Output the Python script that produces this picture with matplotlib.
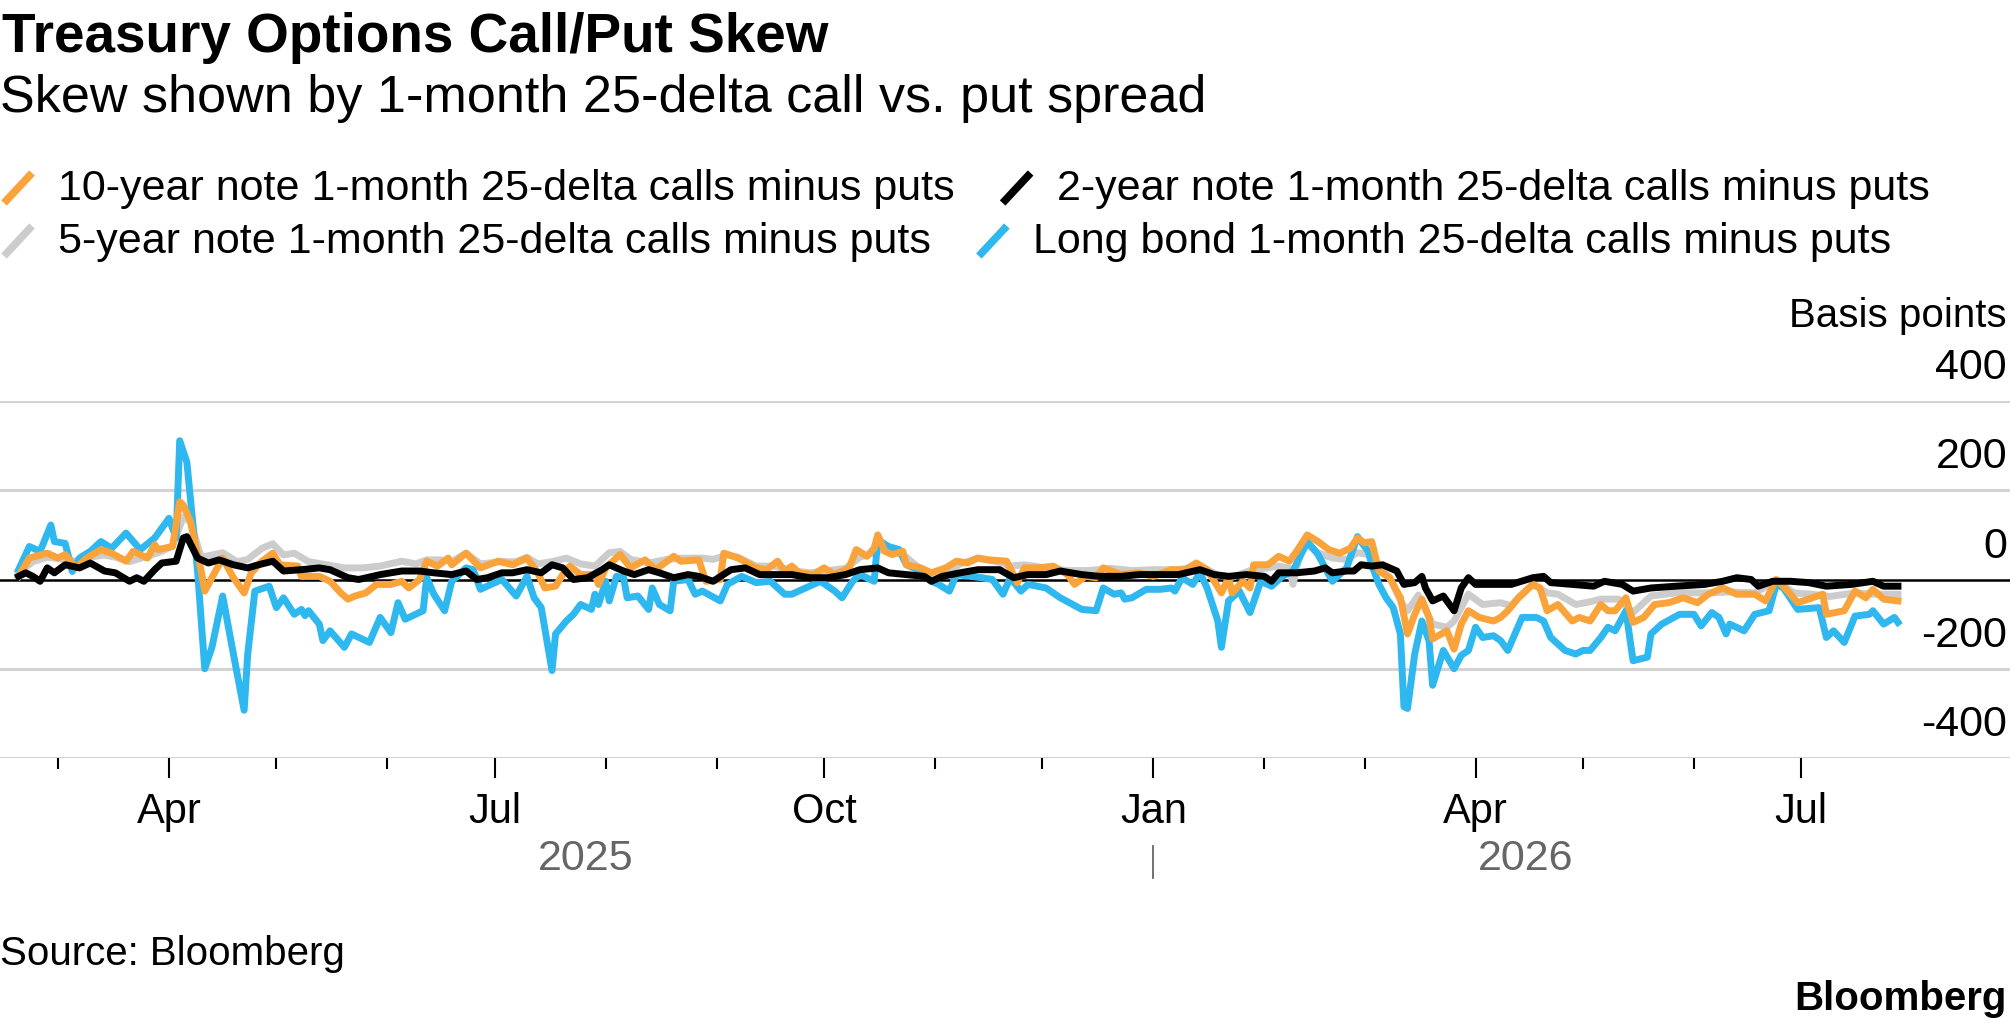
import numpy as np
import matplotlib
matplotlib.use("Agg")
import matplotlib.pyplot as plt
import matplotlib.dates as mdates
import matplotlib.transforms as mtransforms
from matplotlib.lines import Line2D

plt.rcParams['font.family'] = ['Liberation Sans', 'DejaVu Sans']

# all series: day offsets from 2025-03-01 and values in basis points
START = np.datetime64('2025-03-01')

ten_year_days = [-11, -8, -3, 0, 2, 5, 8, 12, 15, 19, 21, 25, 27, 28, 32,
                 34, 35, 37, 40, 41, 43, 46, 49, 52, 54, 57, 60, 62, 67, 68,
                 73, 76, 79, 81, 83, 86, 89, 93, 96, 98, 101, 103, 106, 109, 110,
                 114, 118, 123, 127, 131, 134, 136, 139, 141, 143, 146, 150, 151, 153, 157,
                 160, 164, 167, 172, 174, 179, 181, 185, 186, 190, 195, 198, 201, 203, 205,
                 207, 211, 214, 217, 221, 223, 226, 228, 229, 231, 233, 236, 237, 241, 244,
                 248, 251, 254, 257, 260, 265, 268, 270, 274, 278, 282, 284, 287, 290, 292,
                 297, 302, 306, 311, 315, 318, 321, 325, 327, 328, 331, 333, 334, 338, 341,
                 344, 346, 349, 352, 355, 358, 361, 363, 365, 367, 369, 372, 375, 377, 379,
                 381, 383, 384, 388, 390, 392, 394, 397, 401, 403, 405, 408, 412, 414, 416,
                 419, 423, 425, 428, 431, 433, 435, 438, 440, 443, 446, 450, 454, 458, 461,
                 465, 469, 474, 477, 480, 482, 486, 489, 493, 494, 499, 502, 505, 507, 510,
                 514]
ten_year_bp = [7, 48, 59, 48, 56, 26, 48, 67, 59, 41, 63, 48, 78, 67, 74,
               174, 167, 130, 19, -26, 4, 48, 4, -30, 15, 41, 59, 33, 30, 7,
               7, -4, -30, -44, -37, -30, -11, -11, -4, -19, 0, 41, 30, 48, 33,
               59, 26, 41, 33, 48, 15, -19, -15, 11, 30, 11, 11, -11, 26, 56,
               26, 44, 22, 52, 41, 44, -4, 0, 59, 48, 26, 22, 41, 19, 30,
               15, 11, 26, 11, 26, 67, 52, 70, 100, 63, 56, 63, 33, 26, 15,
               26, 41, 37, 48, 44, 41, -7, 26, 26, 30, 11, -11, 7, 4, 26,
               11, 15, 7, 22, 22, 37, 22, -30, 4, -30, -4, -19, 33, 33, 52,
               41, 63, 100, 85, 67, 59, 70, 93, 82, 85, 19, 4, -41, -122, -78,
               -44, -85, -133, -115, -156, -100, -70, -85, -93, -85, -70, -41, -11, -19, -70,
               -56, -93, -85, -93, -56, -70, -70, -41, -96, -85, -56, -52, -41, -52, -33,
               -19, -33, -33, -48, 0, -15, -52, -44, -33, -78, -70, -26, -41, -22, -44,
               -48]

two_year_days = [-11, -9, -7, -5, -3, -1, 2, 6, 9, 13, 16, 20, 22, 24, 27,
                 29, 33, 35, 36, 39, 42, 45, 49, 53, 56, 60, 63, 68, 73, 76,
                 81, 84, 90, 96, 101, 105, 110, 114, 117, 120, 124, 127, 131, 135, 138,
                 141, 144, 148, 152, 154, 158, 161, 165, 168, 172, 176, 179, 183, 188, 192,
                 196, 201, 205, 210, 215, 220, 224, 229, 232, 237, 242, 244, 247, 252, 257,
                 263, 267, 271, 276, 280, 286, 291, 297, 302, 308, 313, 319, 323, 327, 332,
                 337, 339, 341, 346, 351, 354, 356, 360, 362, 364, 367, 370, 374, 376, 379,
                 381, 382, 384, 387, 390, 392, 394, 396, 399, 403, 406, 412, 415, 417, 423,
                 429, 432, 437, 440, 445, 452, 460, 465, 469, 473, 475, 479, 484, 489, 494,
                 501, 507, 510, 514]
two_year_bp = [7, 15, 7, -4, 26, 15, 33, 26, 37, 19, 15, -4, 4, -4, 22,
               37, 41, 93, 96, 48, 37, 44, 33, 26, 33, 41, 19, 22, 26, 22,
               4, 0, 11, 19, 19, 15, 11, 19, 0, 4, 15, 15, 22, 15, 33,
               26, 0, 4, 22, 33, 19, 11, 22, 15, 4, 11, 7, -4, 22, 26,
               11, 11, 11, 4, 4, 11, 22, 26, 15, 11, 7, -4, 7, 15, 22,
               22, 4, 11, 11, 19, 11, 7, 7, 11, 11, 11, 22, 11, 7, 11,
               7, -4, 15, 15, 19, 26, 15, 19, 19, 33, 30, 33, 19, -11, -7,
               7, -19, -48, -37, -70, -19, 4, -11, -11, -11, -11, 4, 7, -7, -11,
               -15, -4, -11, -26, -19, -15, -11, -4, 4, 0, -15, -4, -4, -7, -15,
               -11, -4, -15, -15]

five_year_days = [-11, -7, -3, 2, 6, 9, 13, 16, 20, 24, 28, 32, 35, 37, 40,
                  43, 46, 50, 53, 57, 60, 63, 66, 70, 75, 80, 85, 90, 96, 100,
                  103, 107, 110, 114, 118, 124, 128, 131, 134, 138, 142, 146, 150, 154, 157,
                  160, 165, 170, 175, 180, 183, 187, 190, 195, 200, 205, 210, 215, 220, 224,
                  228, 231, 236, 240, 244, 248, 252, 257, 262, 266, 270, 276, 282, 288, 294,
                  300, 306, 313, 319, 324, 328, 333, 337, 341, 344, 345, 347, 349, 352, 356,
                  360, 363, 366, 369, 372, 375, 377, 380, 384, 388, 390, 394, 398, 403, 406,
                  408, 412, 416, 419, 424, 428, 431, 436, 440, 445, 452, 460, 467, 474, 480,
                  485, 490, 495, 502, 508, 514]
five_year_bp = [15, 40, 50, 45, 40, 50, 55, 50, 40, 50, 60, 75, 140, 130, 50,
                55, 60, 40, 45, 70, 80, 55, 59, 40, 33, 26, 26, 30, 41, 35,
                44, 44, 40, 59, 35, 40, 40, 50, 35, 40, 48, 35, 30, 60, 63,
                45, 37, 45, 48, 48, 45, 55, 50, 30, 30, 20, 15, 20, 25, 50,
                60, 70, 56, 30, -4, 15, 35, 48, 40, 30, 33, 26, 20, 20, 25,
                20, 22, 22, 30, 10, 5, 20, 25, 30, 25, -11, 60, 78, 60, 48,
                45, 60, 56, 25, 5, -48, -70, -35, -100, -107, -93, -33, -56, -52, -59,
                -40, -11, -30, -33, -56, -50, -44, -44, -74, -37, -30, -30, -28, -30, -4,
                -30, -33, -38, -30, -33, -33]

long_bond_days = [-11, -8, -5, -2, -1, 2, 4, 6, 9, 12, 15, 19, 23, 27, 31,
                  33, 34, 36, 39, 41, 43, 46, 49, 52, 53, 55, 59, 61, 63, 66,
                  68, 69, 70, 73, 74, 76, 80, 82, 87, 90, 93, 95, 97, 102, 103,
                  105, 108, 110, 114, 116, 118, 121, 124, 128, 131, 133, 135, 138, 139, 142,
                  144, 146, 149, 150, 151, 153, 154, 156, 158, 159, 162, 165, 166, 168, 171,
                  172, 176, 178, 180, 185, 187, 191, 195, 199, 203, 205, 208, 213, 217, 219,
                  222, 224, 228, 229, 232, 235, 237, 241, 244, 246, 249, 251, 258, 261, 264,
                  266, 269, 271, 276, 280, 286, 290, 292, 295, 297, 298, 300, 304, 308, 311,
                  312, 314, 317, 319, 321, 324, 325, 327, 330, 333, 336, 339, 342, 345, 349,
                  352, 356, 360, 363, 366, 367, 369, 371, 373, 375, 376, 377, 379, 381, 383,
                  384, 387, 390, 392, 394, 396, 398, 401, 403, 405, 409, 413, 415, 417, 421,
                  424, 426, 428, 431, 433, 435, 438, 440, 444, 445, 448, 453, 457, 459, 462,
                  464, 466, 467, 471, 474, 478, 480, 482, 486, 492, 494, 496, 499, 502, 506,
                  507, 510, 513, 514]
long_bond_bp = [22, 74, 63, 122, 85, 81, 18, 48, 63, 85, 70, 104, 67, 93, 137,
                93, 311, 263, 18, -200, -152, -37, -167, -293, -167, -26, -15, -63, -41, -78,
                -67, -81, -70, -100, -137, -115, -152, -122, -141, -85, -119, -52, -89, -70, 4,
                -33, -70, -4, 26, 22, -22, -11, 0, -37, 7, -41, -63, -204, -122, -93,
                -78, -56, -67, -33, -56, -4, -48, 7, 4, -41, -37, -67, -19, -56, -70,
                -4, 0, -33, -26, -48, -11, 7, -7, -4, -33, -33, -22, -4, -26, -41,
                -4, 11, -4, 89, 74, 67, 33, 19, -4, -11, -26, 11, 4, 0, -33,
                4, -26, -11, -19, -41, -67, -70, -19, -33, -30, -44, -41, -22, -22, -19,
                -26, 4, -11, 15, -19, -93, -152, -48, -26, -74, -4, -15, 7, 19, 85,
                56, -4, 26, 96, 63, 33, -11, -41, -63, -122, -285, -289, -167, -93, -137,
                -237, -159, -200, -170, -159, -107, -130, -126, -137, -159, -85, -85, -93, -130, -159,
                -167, -159, -159, -130, -107, -115, -70, -182, -174, -122, -100, -78, -78, -104, -74,
                -85, -122, -100, -115, -78, -70, -11, -19, -67, -63, -130, -115, -141, -82, -78,
                -70, -100, -85, -96]

labels = {
    'ten': '10-year note 1-month 25-delta calls minus puts',
    'two': '2-year note 1-month 25-delta calls minus puts',
    'five': '5-year note 1-month 25-delta calls minus puts',
    'long': 'Long bond 1-month 25-delta calls minus puts',
}
y_ticks = [400, 200, 0, -200, -400]
month_ticks = np.arange(np.datetime64('2025-03'), np.datetime64('2026-08'))

ORANGE = '#F9A33A'
BLACK = '#000000'
GRAY = '#CCCCCC'
BLUE = '#2FB7F0'
LW = 5.0


def to_dates(days):
    return START + np.array(days).astype('timedelta64[D]')


W, H = 2010, 1035
fig = plt.figure(figsize=(W / 100, H / 100), dpi=100)
ax = fig.add_axes([0, (H - 758) / H, 1, (758 - 401) / H])

# grid
for v in y_ticks:
    if v == 0:
        ax.axhline(v, color='black', lw=1.8, zorder=1.5)
    else:
        ax.axhline(v, color='#D3D3D3', lw=2.2, zorder=1)

ax.plot(to_dates(five_year_days), five_year_bp, color=GRAY, lw=LW, zorder=2,
        solid_joinstyle='round')
ax.plot(to_dates(long_bond_days), long_bond_bp, color=BLUE, lw=LW, zorder=3,
        solid_joinstyle='round')
ax.plot(to_dates(ten_year_days), ten_year_bp, color=ORANGE, lw=LW, zorder=4,
        solid_joinstyle='round')
ax.plot(to_dates(two_year_days), two_year_bp, color=BLACK, lw=LW, zorder=5,
        solid_joinstyle='round')

start_num = mdates.date2num(START)
ax.set_xlim(start_num - 16.2, start_num + 545.3)
ax.set_ylim(-400, 400)
for s in ax.spines.values():
    s.set_visible(False)
ax.set_yticks([])

month_dates = month_ticks.astype('datetime64[D]')
major = [d for d in month_dates if d.astype(object).month in (1, 4, 7, 10)]
minor = [d for d in month_dates if d.astype(object).month not in (1, 4, 7, 10)]
ax.set_xticks(mdates.date2num(major))
ax.set_xticklabels([d.astype(object).strftime('%b') for d in major])
ax.set_xticks(mdates.date2num(minor), minor=True)
ax.tick_params(axis='x', which='major', length=14.4, width=1.5, pad=10,
               labelsize=30, color='black')
ax.tick_params(axis='x', which='minor', length=8, width=1.5, color='black')

# y labels sit above their gridlines on the right
lab_tr = mtransforms.offset_copy(ax.get_yaxis_transform(), fig=fig, x=-3, y=22, units='dots')
for v in y_ticks:
    ax.text(1, v, str(v), transform=lab_tr, ha='right', va='baseline', fontsize=31)
fig.text(2007 / W, (H - 327) / H, 'Basis points', ha='right', va='baseline', fontsize=29)

# year labels under the month labels
yr_tr = mtransforms.blended_transform_factory(ax.transData, fig.transFigure)
first = mdates.date2num(to_dates(ten_year_days)[0])
last = mdates.date2num(to_dates(ten_year_days)[-1])
jan = mdates.date2num(np.datetime64('2026-01-01'))
ax.text((first + jan) / 2, (H - 870) / H, '2025', transform=yr_tr, ha='center',
        va='baseline', fontsize=31, color='#666666')
ax.text((jan + last) / 2, (H - 870) / H, '2026', transform=yr_tr, ha='center',
        va='baseline', fontsize=31, color='#666666')
ax.add_line(Line2D([jan, jan], [(H - 846) / H, (H - 878) / H], transform=yr_tr,
                   color='#666666', lw=1.3, clip_on=False))

# titles
fig.text(2 / W, (H - 52) / H, 'Treasury Options Call/Put Skew', fontsize=39.5,
         fontweight='bold', va='baseline')
fig.text(0, (H - 112) / H, 'Skew shown by 1-month 25-delta call vs. put spread',
         fontsize=37.5, va='baseline')

# legend laid out as flowing rows
renderer = fig.canvas.get_renderer()
rows = [[(labels['ten'], ORANGE), (labels['two'], BLACK)],
        [(labels['five'], GRAY), (labels['long'], BLUE)]]
for baseline, row in zip([200, 253], rows):
    cursor = 4
    for text, color in row:
        fig.add_artist(Line2D([cursor / W, (cursor + 28) / W],
                              [(H - baseline - 3) / H, (H - baseline + 27) / H],
                              color=color, lw=5.5, solid_capstyle='butt'))
        t = fig.text((cursor + 54) / W, (H - baseline) / H, text, fontsize=31,
                     va='baseline')
        cursor = t.get_window_extent(renderer).x1 + 48

fig.text(0, (H - 965) / H, 'Source: Bloomberg', fontsize=29, va='baseline')
fig.text(2007 / W, (H - 1010) / H, 'Bloomberg', fontsize=29, fontweight='bold',
         ha='right', va='baseline')

fig.savefig('out.png', dpi=100)
